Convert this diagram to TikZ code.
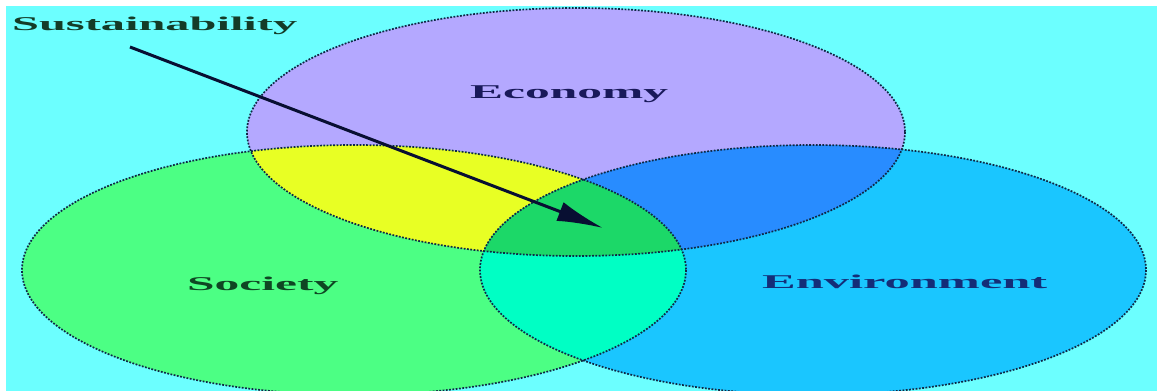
\documentclass[tikz,border=0pt]{standalone}
\usepackage{fontspec}
\setmainfont{Liberation Serif}
\usetikzlibrary{arrows.meta}
\definecolor{bgcyan}{RGB}{108,255,255}
\definecolor{econ}{RGB}{180,168,255}
\definecolor{soc}{RGB}{76,255,132}
\definecolor{env}{RGB}{26,198,255}
\definecolor{econsoc}{RGB}{232,255,36}
\definecolor{econenv}{RGB}{40,140,255}
\definecolor{socenv}{RGB}{0,255,196}
\definecolor{center}{RGB}{28,216,104}
\definecolor{outline}{RGB}{15,40,70}
\definecolor{arrowc}{RGB}{8,15,50}
\definecolor{txtgreen}{RGB}{20,60,40}
\definecolor{txtnavy}{RGB}{25,25,90}
\definecolor{txtsoc}{RGB}{15,70,35}
\definecolor{txtenv}{RGB}{20,45,120}
\tikzset{
  rim/.style={draw=outline, line width=1.7pt, dash pattern=on 1.8pt off 1.5pt},
  lbl/.style={inner sep=0pt, anchor=base west},
}
\newcommand{\stretchtxt}[2]{\resizebox{#1}{\height}{\fontsize{19.5}{22}\selectfont\bfseries #2}}
\def\econpath{(576,132) ellipse [x radius=329, y radius=124]}
\def\socpath{(354,270) ellipse [x radius=332, y radius=125]}
\def\envpath{(813,270) ellipse [x radius=333, y radius=125]}
\begin{document}
\begin{tikzpicture}[x=1pt,y=-1pt]
\useasboundingbox (0,0) rectangle (1157,391);
\fill[white] (0,0) rectangle (1157,391);
\fill[bgcyan] (6,6) rectangle (1157,391);
% base ellipses
\fill[econ] \econpath;
\fill[soc] \socpath;
\fill[env] \envpath;
% pairwise intersections
\begin{scope}\clip \econpath; \fill[econsoc] \socpath; \end{scope}
\begin{scope}\clip \econpath; \fill[econenv] \envpath; \end{scope}
\begin{scope}\clip \socpath; \fill[socenv] \envpath; \end{scope}
\begin{scope}\clip \econpath; \clip \socpath; \fill[center] \envpath; \end{scope}
% outlines
\draw[rim] \econpath;
\draw[rim] \socpath;
\draw[rim] \envpath;
% labels
\node[lbl, text=txtgreen] (sust) at (12,30) {\stretchtxt{285pt}{Sustainability}};
\node[lbl, text=txtnavy] (econlbl) at (470,98) {\stretchtxt{198pt}{Economy}};
\node[lbl, text=txtsoc] (soclbl) at (187,290) {\stretchtxt{151pt}{Society}};
\node[lbl, text=txtenv] (envlbl) at (762,288) {\stretchtxt{285pt}{Environment}};
% arrow
\coordinate (arrstart) at (130,47);
\coordinate (arrtip) at (603,228);
\draw[arrowc, line width=3pt, -{Latex[length=46pt,width=20pt]}] (arrstart) -- (arrtip);
\end{tikzpicture}
\end{document}
